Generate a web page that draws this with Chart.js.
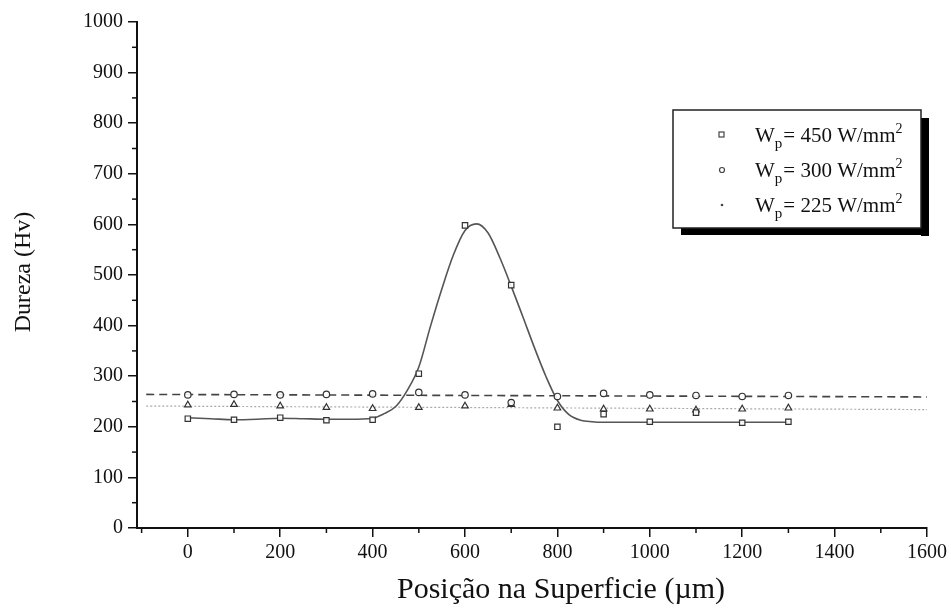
<!DOCTYPE html>
<html><head><meta charset="utf-8">
<script src="https://cdn.jsdelivr.net/npm/chart.js@4.4.0/dist/chart.umd.min.js"></script>
<style>html,body{margin:0;padding:0;background:#fff}#wrap{width:951px;height:610px;position:relative}</style>
</head><body><div id="wrap"><canvas id="c" width="951" height="610"></canvas></div>
<script>
// ---- data ----
const positions = [0,100,200,300,400,500,600,700,800,900,1000,1100,1200,1300];
const hv450 = [216,214,218,213,214,305,598,480,200,225,210,228,208,210];
const hv300 = [263,264,263,264,265,268,263,248,260,266,263,262,260,262];
const hv225 = [243,244,241,238,236,238,241,244,237,235,235,233,235,237];
const fitX450 = [0,50,100,150,200,250,300,350,400,425,450,475,500,525,550,575,600,625,650,675,700,725,750,775,800,825,850,875,900,1000,1100,1200,1300];
const fitY450 = [218,216,214,215,217,216,215,215,217,226,240,272,318,398,473,540,588,601,583,535,478,418,357,300,252,224,213,210,209,209,209,209,209];
const fitX300 = [-90,1600];
const fitY300 = [264,259];
const fitX225 = [-90,1600];
const fitY225 = [241,234];
const xTicks = [0,200,400,600,800,1000,1200,1400,1600];
const yTicks = [0,100,200,300,400,500,600,700,800,900,1000];
const xMinorTicks = [-100,100,300,500,700,900,1100,1300,1500];
const yMinorTicks = [50,150,250,350,450,550,650,750,850,950];
const legendValues = ['450','300','225'];
const xTitle = 'Posição na Superficie (µm)';
const yTitle = 'Dureza (Hv)';

const pts = (xs, ys) => xs.map((x,i)=>({x:x, y:ys[i]}));
const FONT = '"Liberation Serif", "Times New Roman", serif';
const INK = '#111';

const extras = {
  id:'extras',
  afterDraw(chart){
    const ctx = chart.ctx;
    const xs = chart.scales.x, ys = chart.scales.y;
    ctx.save();
    // minor ticks
    ctx.strokeStyle = INK; ctx.lineWidth = 1.5;
    xMinorTicks.forEach(v=>{
      const p = xs.getPixelForValue(v);
      ctx.beginPath(); ctx.moveTo(p, ys.bottom); ctx.lineTo(p, ys.bottom+5); ctx.stroke();
    });
    yMinorTicks.forEach(v=>{
      const p = ys.getPixelForValue(v);
      ctx.beginPath(); ctx.moveTo(xs.left, p); ctx.lineTo(xs.left-5, p); ctx.stroke();
    });
    // titles
    ctx.fillStyle = INK;
    ctx.font = '30px ' + FONT;
    ctx.textAlign = 'center'; ctx.textBaseline = 'middle';
    ctx.fillText(xTitle, 561, 590);
    ctx.font = '24px ' + FONT;
    ctx.translate(24, 272); ctx.rotate(-Math.PI/2);
    ctx.fillText(yTitle, 0, 0);
    ctx.restore();

    // legend
    ctx.save();
    const L=673, T=110, R=921, B=228;
    ctx.fillStyle = '#000';
    ctx.fillRect(R, T+8, 8, B-T);
    ctx.fillRect(L+8, B, R-L, 7);
    ctx.fillStyle = '#fff';
    ctx.fillRect(L, T, R-L, B-T);
    ctx.strokeStyle = '#222'; ctx.lineWidth = 1.5;
    ctx.strokeRect(L, T, R-L, B-T);
    const rows = [135, 170, 205];
    rows.forEach((y,i)=>{
      // symbol
      ctx.strokeStyle = '#444'; ctx.fillStyle = '#444'; ctx.lineWidth = 1.2;
      if(i===0){ ctx.strokeRect(719, y-3, 5, 5); }
      else if(i===1){ ctx.beginPath(); ctx.arc(722, y, 2.5, 0, Math.PI*2); ctx.stroke(); }
      else { ctx.beginPath(); ctx.arc(722, y, 1.3, 0, Math.PI*2); ctx.fill(); }
      // text
      ctx.fillStyle = INK; ctx.textAlign='left'; ctx.textBaseline='alphabetic';
      let x = 755;
      ctx.font = '21px ' + FONT;
      ctx.fillText('W', x, y+7); x += ctx.measureText('W').width;
      ctx.font = '15px ' + FONT;
      ctx.fillText('p', x, y+13); x += ctx.measureText('p').width + 1;
      ctx.font = '21px ' + FONT;
      const s = '= ' + legendValues[i] + ' W/mm';
      ctx.fillText(s, x, y+7); x += ctx.measureText(s).width;
      ctx.font = '14px ' + FONT;
      ctx.fillText('2', x, y-2);
    });
    ctx.restore();
  }
};

const pointDs = (data, style, r) => ({
  data, showLine:false, pointStyle:style, pointRadius:r, pointHoverRadius:r,
  pointBackgroundColor:'rgba(255,255,255,0.9)', pointBorderColor:'#333', pointBorderWidth:1.2, order:0
});

new Chart(document.getElementById('c'), {
  type:'scatter',
  data:{ datasets:[
    pointDs(pts(positions, hv450), 'rect', 3.8),
    pointDs(pts(positions, hv300), 'circle', 3.2),
    pointDs(pts(positions, hv225), 'triangle', 3.8),
    { data:pts(fitX450, fitY450), showLine:true, pointRadius:0, borderColor:'#555', borderWidth:1.6,
      cubicInterpolationMode:'monotone', order:1 },
    { data:pts(fitX300, fitY300), showLine:true, pointRadius:0, borderColor:'#444', borderWidth:1.6,
      borderDash:[8,5], order:1 },
    { data:pts(fitX225, fitY225), showLine:true, pointRadius:0, borderColor:'#aaa', borderWidth:1.2,
      borderDash:[2,2], order:1 }
  ]},
  options:{
    responsive:false, animation:false,
    layout:{ padding:{ top:22, right:24, left:0, bottom:0 } },
    plugins:{ legend:{display:false}, tooltip:{enabled:false} },
    scales:{
      x:{ type:'linear', min:-110, max:1600,
        afterBuildTicks: s => { s.ticks = xTicks.map(v=>({value:v})); },
        afterFit: s => { s.height = 82; },
        grid:{ drawOnChartArea:false, drawTicks:true, tickLength:9, color:INK, lineWidth:1.5 },
        border:{ display:true, color:INK, width:2 },
        ticks:{ color:INK, font:{ family:FONT, size:20 }, padding:4, maxRotation:0, autoSkip:false,
          callback: v => String(v) }
      },
      y:{ type:'linear', min:0, max:1000,
        afterBuildTicks: s => { s.ticks = yTicks.map(v=>({value:v})); },
        afterFit: s => { s.width = 137; },
        grid:{ drawOnChartArea:false, drawTicks:true, tickLength:9, color:INK, lineWidth:1.5 },
        border:{ display:true, color:INK, width:2 },
        ticks:{ color:INK, font:{ family:FONT, size:20 }, padding:5, autoSkip:false,
          callback: v => String(v) }
      }
    }
  },
  plugins:[extras]
});
</script></body></html>
